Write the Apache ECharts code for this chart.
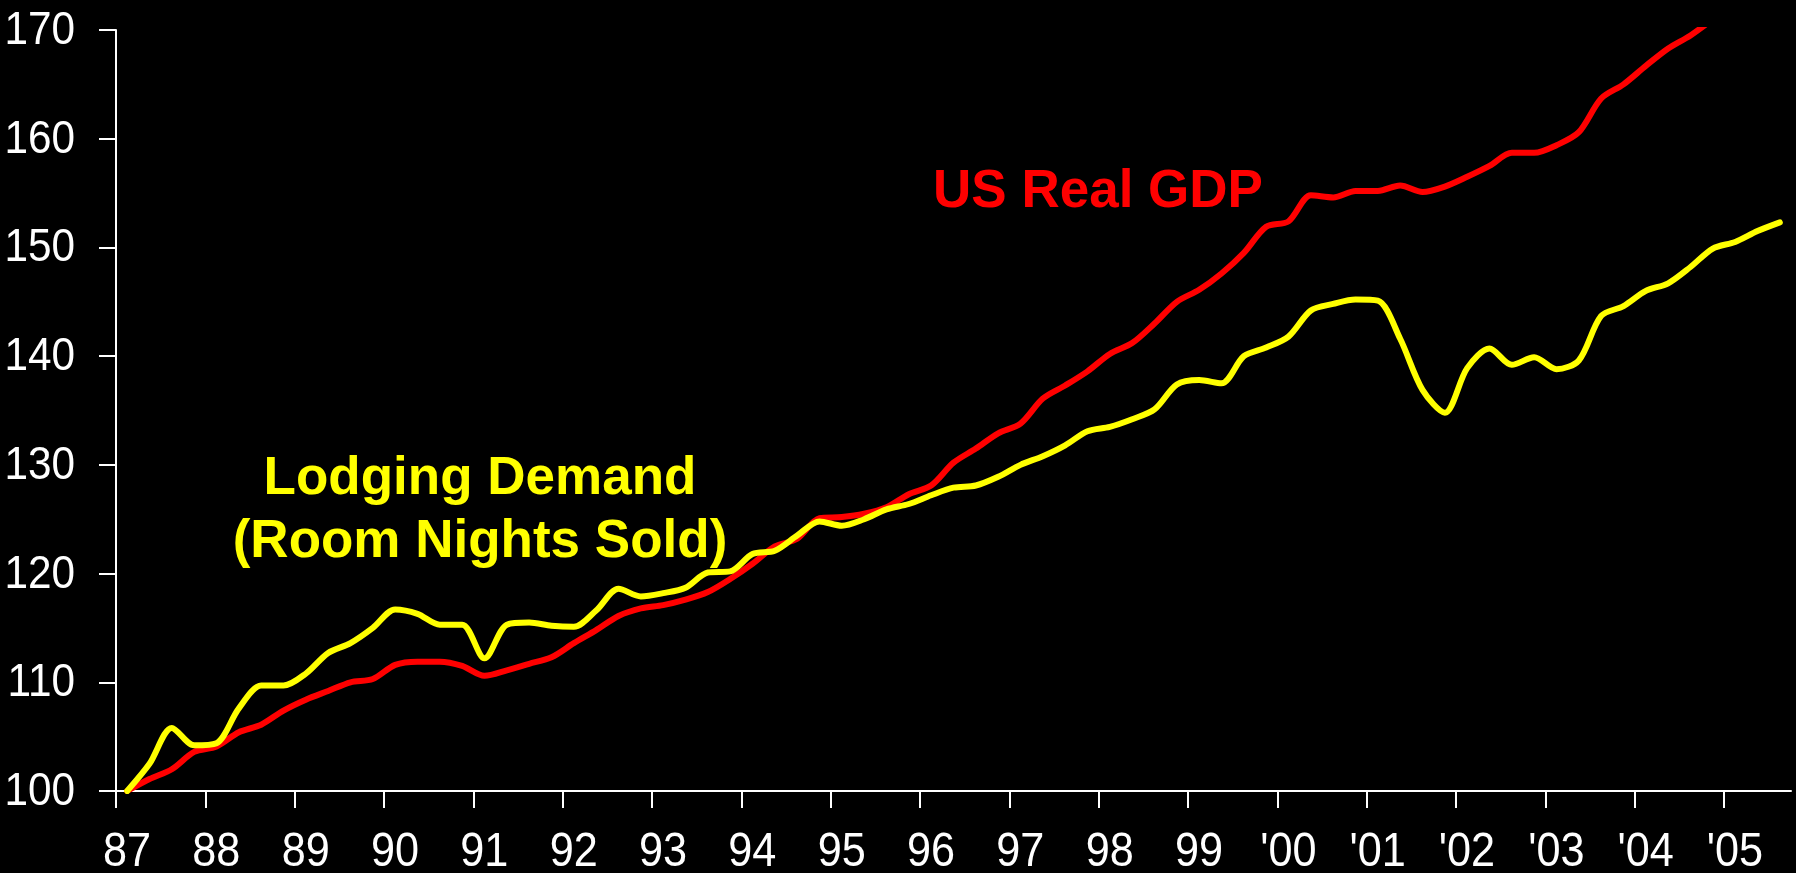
<!DOCTYPE html>
<html>
<head>
<meta charset="utf-8">
<script src="https://cdn.jsdelivr.net/npm/echarts@6/dist/echarts.min.js"></script>
<style>
  html, body { margin: 0; padding: 0; background: #000; overflow: hidden; }
  #chart { width: 1796px; height: 873px; }
</style>
</head>
<body>
<div id="chart"></div>
<script>
// quarterly time points (decimal years)
var quarters = [
  1987.125, 1987.375, 1987.625, 1987.875, 1988.125, 1988.375, 1988.625, 1988.875,
  1989.125, 1989.375, 1989.625, 1989.875, 1990.125, 1990.375, 1990.625, 1990.875,
  1991.125, 1991.375, 1991.625, 1991.875, 1992.125, 1992.375, 1992.625, 1992.875,
  1993.125, 1993.375, 1993.625, 1993.875, 1994.125, 1994.375, 1994.625, 1994.875,
  1995.125, 1995.375, 1995.625, 1995.875, 1996.125, 1996.375, 1996.625, 1996.875,
  1997.125, 1997.375, 1997.625, 1997.875, 1998.125, 1998.375, 1998.625, 1998.875,
  1999.125, 1999.375, 1999.625, 1999.875, 2000.125, 2000.375, 2000.625, 2000.875,
  2001.125, 2001.375, 2001.625, 2001.875, 2002.125, 2002.375, 2002.625, 2002.875,
  2003.125, 2003.375, 2003.625, 2003.875, 2004.125, 2004.375, 2004.625, 2004.875,
  2005.125, 2005.375, 2005.625
];

// US Real GDP index (1987 = 100), runs off the top of the chart
var gdp = [
  100.0, 101.1, 102.0, 103.6, 104.1, 105.4, 106.1, 107.4,
  108.4, 109.2, 110.0, 110.3, 111.6, 111.9, 111.9, 111.5,
  110.6, 111.1, 111.7, 112.3, 113.6, 114.8, 116.1, 116.8,
  117.1, 117.6, 118.3, 119.5, 120.9, 122.5, 123.2, 125.1,
  125.2, 125.5, 126.1, 127.3, 128.1, 130.2, 131.5, 132.9,
  133.8, 136.1, 137.3, 138.6, 140.2, 141.2, 143.0, 145.0,
  146.1, 147.6, 149.5, 151.9, 152.4, 154.8, 154.6, 155.2,
  155.2, 155.7, 155.1, 155.6, 156.5, 157.5, 158.7, 158.7,
  159.4, 160.6, 163.7, 165.0, 166.7, 168.3, 169.5, 171.0
];

// Lodging demand index (room nights sold, 1987 = 100)
var lodging = [
  100.0, 102.5, 105.8, 104.2, 104.4, 107.6, 109.7, 109.7,
  110.8, 112.7, 113.6, 115.0, 116.7, 116.3, 115.3, 115.3,
  112.2, 115.3, 115.5, 115.2, 115.1, 116.6, 118.6, 117.9,
  118.2, 118.7, 120.1, 120.2, 121.8, 122.1, 123.5, 124.8,
  124.4, 125.0, 125.9, 126.4, 127.2, 127.9, 128.1, 128.9,
  130.0, 130.8, 131.8, 133.1, 133.5, 134.2, 135.1, 137.4,
  137.8, 137.5, 140.0, 140.8, 141.8, 144.2, 144.8, 145.2,
  145.1, 141.6, 136.9, 134.8, 138.9, 140.7, 139.2, 139.9,
  138.8, 139.6, 143.7, 144.6, 146.0, 146.7, 148.2, 149.9,
  150.5, 151.5, 152.3
];

var tickYears = [1987, 1988, 1989, 1990, 1991, 1992, 1993, 1994, 1995, 1996,
                 1997, 1998, 1999, 2000, 2001, 2002, 2003, 2004, 2005];
var xTickLabels = ['87', '88', '89', '90', '91', '92', '93', '94', '95', '96',
                   '97', '98', '99', "'00", "'01", "'02", "'03", "'04", "'05"];
var yTicks = [100, 110, 120, 130, 140, 150, 160, 170];

var xTickFont = "48px 'Liberation Sans', Arial, sans-serif";
var yTickFont = "47px 'Liberation Sans', Arial, sans-serif";
var noteFont = "bold 53px 'Liberation Sans', Arial, sans-serif";
var narrow = 0.9; // no condensed face installed, squeeze tick labels instead

function pairs(xs, ys) {
  var out = [];
  for (var i = 0; i < ys.length; i++) out.push([xs[i], ys[i]]);
  return out;
}

var chart = echarts.init(document.getElementById('chart'));

chart.setOption({
  backgroundColor: '#000',
  animation: false,
  grid: { left: 116, right: 5, top: 30, bottom: 82, containLabel: false, outerBoundsMode: 'none' },
  xAxis: {
    type: 'value',
    min: 1987,
    max: 2005.75,
    interval: 1,
    splitLine: { show: false },
    axisLine: { show: true, onZero: false, lineStyle: { color: '#fff', width: 2 } },
    axisTick: { show: true, length: 17, lineStyle: { color: '#fff', width: 2 }, customValues: tickYears },
    axisLabel: { show: false }
  },
  yAxis: {
    type: 'value',
    min: 100,
    max: 170,
    interval: 10,
    splitLine: { show: false },
    axisLine: { show: true, lineStyle: { color: '#fff', width: 2 } },
    axisTick: { show: true, length: 17, lineStyle: { color: '#fff', width: 2 } },
    axisLabel: { show: false }
  },
  series: [
    {
      name: 'US Real GDP',
      type: 'line',
      data: pairs(quarters, gdp),
      showSymbol: false,
      smooth: 0.3,
      clip: true,
      lineStyle: { color: '#ff0000', width: 6, cap: 'round', join: 'round' }
    },
    {
      name: 'Lodging Demand',
      type: 'line',
      data: pairs(quarters, lodging),
      showSymbol: false,
      smooth: 0.3,
      clip: true,
      lineStyle: { color: '#ffff00', width: 6, cap: 'round', join: 'round' }
    }
  ]
});

// tick labels, placed through the axes' own scales
var graphics = [];
var axisY = chart.convertToPixel({ yAxisIndex: 0 }, 100);
var axisX = chart.convertToPixel({ xAxisIndex: 0 }, 1987);
tickYears.forEach(function (yr, i) {
  graphics.push({
    type: 'text',
    x: chart.convertToPixel({ xAxisIndex: 0 }, yr) + 11,
    y: axisY + 62,
    scaleX: narrow,
    style: { text: xTickLabels[i], fill: '#fff', font: xTickFont, textAlign: 'center', textVerticalAlign: 'middle' }
  });
});
yTicks.forEach(function (v) {
  graphics.push({
    type: 'text',
    x: axisX - 41,
    y: chart.convertToPixel({ yAxisIndex: 0 }, v) + 1,
    scaleX: narrow,
    style: { text: String(v), fill: '#fff', font: yTickFont, textAlign: 'right', textVerticalAlign: 'middle' }
  });
});

// series annotations
graphics.push(
  {
    type: 'text', x: 1098, y: 192,
    style: { text: 'US Real GDP', fill: '#ff0000', font: noteFont, textAlign: 'center', textVerticalAlign: 'middle' }
  },
  {
    type: 'text', x: 480, y: 479,
    style: { text: 'Lodging Demand', fill: '#ffff00', font: noteFont, textAlign: 'center', textVerticalAlign: 'middle' }
  },
  {
    type: 'text', x: 480, y: 542,
    style: { text: '(Room Nights Sold)', fill: '#ffff00', font: noteFont, textAlign: 'center', textVerticalAlign: 'middle' }
  }
);

chart.setOption({ graphic: graphics });
</script>
</body>
</html>
